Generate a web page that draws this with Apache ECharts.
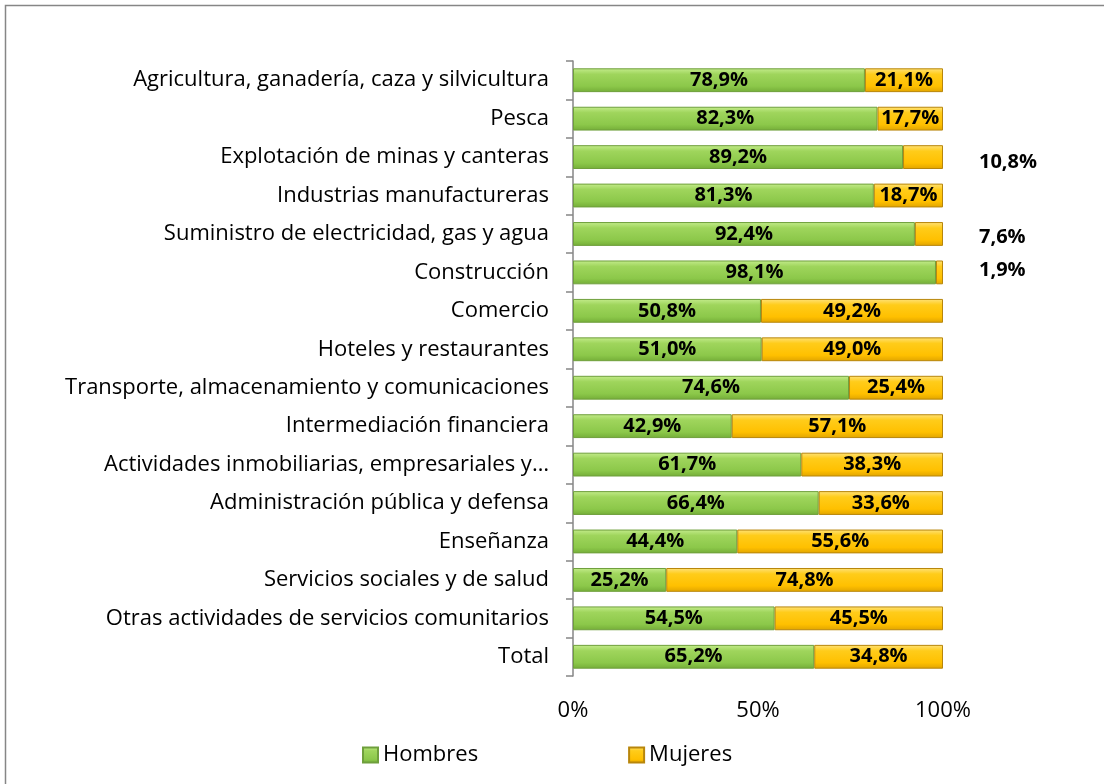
<!DOCTYPE html>
<html>
<head>
<meta charset="utf-8">
<script src="https://cdn.jsdelivr.net/npm/echarts@6/dist/echarts.min.js"></script>
<style>
html,body{margin:0;padding:0;background:#fff;}
#chart{width:1104px;height:784px;}
</style>
</head>
<body>
<div id="chart"></div>
<script>
const categories = [
  "Agricultura, ganadería, caza y silvicultura",
  "Pesca",
  "Explotación de minas y canteras",
  "Industrias manufactureras",
  "Suministro de electricidad, gas y agua",
  "Construcción",
  "Comercio",
  "Hoteles y restaurantes",
  "Transporte, almacenamiento y comunicaciones",
  "Intermediación financiera",
  "Actividades inmobiliarias, empresariales y…",
  "Administración pública y defensa",
  "Enseñanza",
  "Servicios sociales y de salud",
  "Otras actividades de servicios comunitarios",
  "Total"
];
const hombres = [78.9, 82.3, 89.2, 81.3, 92.4, 98.1, 50.8, 51.0, 74.6, 42.9, 61.7, 66.4, 44.4, 25.2, 54.5, 65.2];
const mujeres = [21.1, 17.7, 10.8, 18.7, 7.6, 1.9, 49.2, 49.0, 25.4, 57.1, 38.3, 33.6, 55.6, 74.8, 45.5, 34.8];
const xTicks = ["0%", "50%", "100%"];
const titleText = "Porcentaje de ocupados según género por rama de actividad, según población";

const FONT = "'Open Sans', 'Noto Sans', sans-serif";
const fmt = v => v.toFixed(1).replace('.', ',') + '%';

const greenFill = new echarts.graphic.LinearGradient(0, 0, 0, 1, [
  {offset: 0, color: '#c4ec8c'},
  {offset: 0.25, color: '#9fd55c'},
  {offset: 0.75, color: '#8cc84a'},
  {offset: 1, color: '#74ad38'}
]);
const yellowFill = new echarts.graphic.LinearGradient(0, 0, 0, 1, [
  {offset: 0, color: '#ffe27a'},
  {offset: 0.25, color: '#ffcc1a'},
  {offset: 0.75, color: '#ffc000'},
  {offset: 1, color: '#e0a400'}
]);

const outside = {2: [0, 5], 4: [0, 3], 5: [0, -2]};

const mujeresData = mujeres.map((v, i) => {
  const d = {value: v};
  if (outside[i] !== undefined) {
    d.label = {position: 'right', distance: 36, offset: outside[i]};
  }
  return d;
});

const chart = echarts.init(document.getElementById('chart'), null, {renderer: 'canvas'});
chart.setOption({
  backgroundColor: '#fff',
  animation: false,
  title: {
    text: titleText,
    left: 0,
    top: -28,
    textStyle: {fontFamily: FONT, fontSize: 20, fontWeight: 'bold', color: '#000'}
  },
  graphic: [{
    type: 'rect',
    shape: {x: 5.5, y: 5.5, width: 1110, height: 800},
    style: {fill: 'none', stroke: '#868686', lineWidth: 1.5},
    silent: true
  }],
  grid: {left: 573, right: 161, top: 61, bottom: 108, containLabel: false},
  legend: {
    top: 739,
    left: 357,
    itemGap: 150,
    itemWidth: 15,
    itemHeight: 15,
    icon: 'rect',
    textStyle: {fontFamily: FONT, fontSize: 22, color: '#000'},
    data: ['Hombres', 'Mujeres']
  },
  xAxis: {
    type: 'value',
    min: 0, max: 100, interval: 50,
    axisLine: {show: false},
    axisTick: {show: false},
    splitLine: {show: false},
    axisLabel: {
      margin: 24,
      fontFamily: FONT, fontSize: 22, color: '#000',
      formatter: v => xTicks[Math.round(v / 50)]
    }
  },
  yAxis: {
    type: 'category',
    inverse: true,
    data: categories,
    axisLine: {show: true, lineStyle: {color: '#868686', width: 1.5}},
    axisTick: {show: true, length: 7, lineStyle: {color: '#868686', width: 1.5}},
    axisLabel: {margin: 24, fontFamily: FONT, fontSize: 22, color: '#000'}
  },
  series: [
    {
      name: 'Hombres',
      type: 'bar',
      stack: 'total',
      barCategoryGap: '38%',
      data: hombres,
      itemStyle: {color: greenFill, borderColor: '#6f9f3c', borderWidth: 1},
      label: {
        show: true, position: 'inside',
        fontFamily: FONT, fontSize: 20, fontWeight: 'bold', color: '#000',
        formatter: p => fmt(p.value)
      }
    },
    {
      name: 'Mujeres',
      type: 'bar',
      stack: 'total',
      barCategoryGap: '38%',
      data: mujeresData,
      itemStyle: {color: yellowFill, borderColor: '#b8860b', borderWidth: 1},
      label: {
        show: true, position: 'inside',
        fontFamily: FONT, fontSize: 20, fontWeight: 'bold', color: '#000',
        formatter: p => fmt(p.value)
      }
    }
  ]
});
</script>
</body>
</html>
